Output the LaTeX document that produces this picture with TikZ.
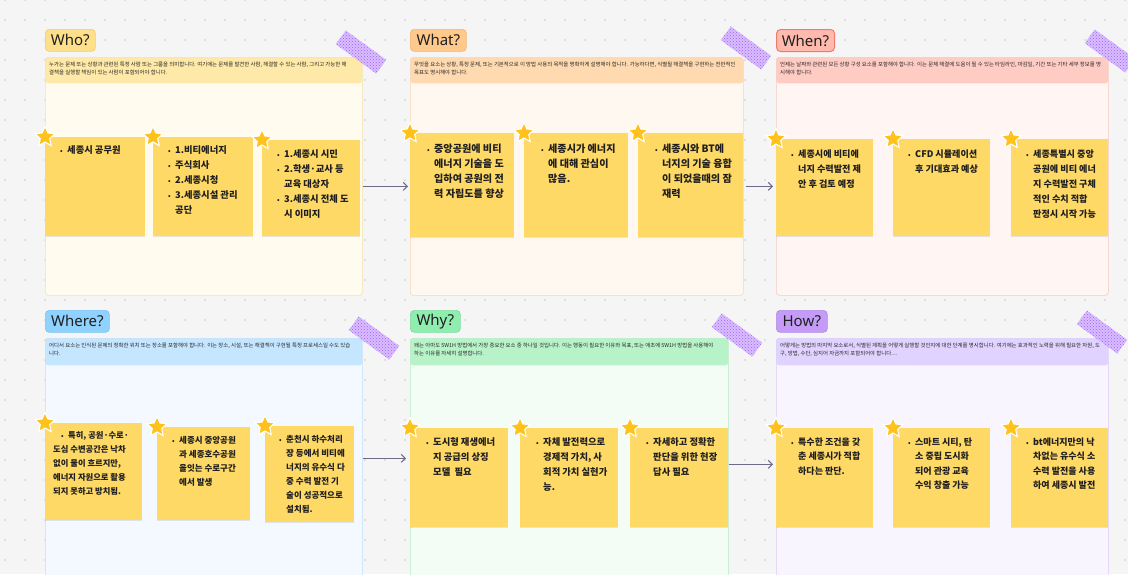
\documentclass[tikz,border=0pt]{standalone}
\usepackage{fontspec}
\newfontfamily\kr{Noto Sans CJK KR}
\newfontfamily\hdf{Noto Sans}
\usetikzlibrary{shapes.geometric,arrows.meta,patterns,shadows,calc}
\definecolor{bgc}{HTML}{F5F5F5}
\definecolor{dotc}{HTML}{CACACA}
\definecolor{stk}{HTML}{FFD966}
\definecolor{starc}{HTML}{FFC21A}
\definecolor{arr}{HTML}{6F6A8A}
\definecolor{tapec}{HTML}{D6B8FF}
\definecolor{tapep}{HTML}{9E62FF}
\definecolor{txt}{HTML}{1F1F1F}
\definecolor{dtxt}{HTML}{262626}
% frame colours: body, header band, border, title fill, title border
\definecolor{whoB}{HTML}{FFFCEF}\definecolor{whoH}{HTML}{FFE9A8}\definecolor{whoD}{HTML}{F3E2A8}\definecolor{whoT}{HTML}{FFE08A}\definecolor{whoTD}{HTML}{F0CD70}
\definecolor{whatB}{HTML}{FFF8F1}\definecolor{whatH}{HTML}{FFDAB0}\definecolor{whatD}{HTML}{F6D6B5}\definecolor{whatT}{HTML}{FFC98C}\definecolor{whatTD}{HTML}{F0B578}
\definecolor{whenB}{HTML}{FFF6F4}\definecolor{whenH}{HTML}{FFCCC4}\definecolor{whenD}{HTML}{F7C9C2}\definecolor{whenT}{HTML}{FFB9AD}\definecolor{whenTD}{HTML}{EE7B6B}
\definecolor{whereB}{HTML}{F4F9FF}\definecolor{whereH}{HTML}{C5E6FF}\definecolor{whereD}{HTML}{C0E0FA}\definecolor{whereT}{HTML}{8FD1FF}\definecolor{whereTD}{HTML}{7EC3F2}
\definecolor{whyB}{HTML}{F3FDF6}\definecolor{whyH}{HTML}{B8F2C9}\definecolor{whyD}{HTML}{B5EBC5}\definecolor{whyT}{HTML}{90EDB0}\definecolor{whyTD}{HTML}{7EDF9E}
\definecolor{howB}{HTML}{F8F5FF}\definecolor{howH}{HTML}{E0D3FF}\definecolor{howD}{HTML}{D9CCF7}\definecolor{howT}{HTML}{C49CF8}\definecolor{howTD}{HTML}{B48AEB}
\newcommand\bu{\makebox[7pt][l]{\fontsize{6.5}{6.5}\selectfont •}}
\newcommand\ii{\hspace*{7pt}}
\newcommand\fs{\rule{0pt}{8pt}}
\begin{document}
\begin{tikzpicture}[x=1pt,y=-1pt,
  frm/.style={rounded corners=3pt, anchor=north west, inner sep=0pt, line width=0.6pt},
  ttl/.style={rounded corners=4pt, anchor=north west, inner sep=0pt, line width=0.7pt, text=txt, font=\hdf\fontsize{15}{15}\selectfont},
  desc/.style={anchor=north west, inner sep=0pt, align=left, text=dtxt, font=\kr\fontsize{5.4}{8.2}\selectfont},
  sticky/.style={fill=stk, anchor=north west, inner sep=0pt, drop shadow={shadow xshift=0pt, shadow yshift=-1pt, opacity=0.18}},
  stmark/.style={star, star points=5, star point ratio=2.1, fill=starc, draw=white, line width=1.1pt, minimum size=21pt, inner sep=0pt},
  stxt/.style={anchor=north west, inner sep=0pt, align=left, text=txt},
  conn/.style={draw=arr, line width=1.1pt, -{Straight Barb[length=4pt,width=8pt]}},
  tapest/.style={minimum width=50pt, minimum height=17pt, inner sep=0pt, preaction={fill=tapec, fill opacity=0.9}, pattern=crosshatch dots, pattern color=tapep}
]
\useasboundingbox (0,0) rectangle (1128,574);
\clip (0,0) rectangle (1128,574);
\fill[bgc] (0,0) rectangle (1128,574);
\foreach \i in {0,...,56} {\foreach \j in {0,...,28} {\fill[dotc] (5+20*\i,20*\j) circle[radius=0.9pt];}}

% ---------- frames ----------
\node[frm, fill=whoB, draw=whoD, minimum width=317pt, minimum height=238pt,
  path picture={\fill[whoH] (path picture bounding box.north west) rectangle ([yshift=-26pt]path picture bounding box.north east);}] (who) at (45,57) {};
\node[frm, fill=whatB, draw=whatD, minimum width=333pt, minimum height=238pt,
  path picture={\fill[whatH] (path picture bounding box.north west) rectangle ([yshift=-26pt]path picture bounding box.north east);}] (what) at (410,57) {};
\node[frm, fill=whenB, draw=whenD, minimum width=332pt, minimum height=238pt,
  path picture={\fill[whenH] (path picture bounding box.north west) rectangle ([yshift=-26pt]path picture bounding box.north east);}] (when) at (776,57) {};
\node[frm, fill=whereB, draw=whereD, minimum width=317pt, minimum height=250pt,
  path picture={\fill[whereH] (path picture bounding box.north west) rectangle ([yshift=-27pt]path picture bounding box.north east);}] (where) at (45,338) {};
\node[frm, fill=whyB, draw=whyD, minimum width=318pt, minimum height=250pt,
  path picture={\fill[whyH] (path picture bounding box.north west) rectangle ([yshift=-27pt]path picture bounding box.north east);}] (why) at (410,338) {};
\node[frm, fill=howB, draw=howD, minimum width=332pt, minimum height=250pt,
  path picture={\fill[howH] (path picture bounding box.north west) rectangle ([yshift=-27pt]path picture bounding box.north east);}] (how) at (776,338) {};

% ---------- titles ----------
\node[ttl, fill=whoT, draw=whoTD, minimum width=50pt, minimum height=22pt] (whoT) at (45,29) {Who?};
\node[ttl, fill=whatT, draw=whatTD, minimum width=56pt, minimum height=22pt] (whatT) at (410,29) {What?};
\node[ttl, fill=whenT, draw=whenTD, line width=1pt, minimum width=58pt, minimum height=22pt] (whenT) at (776,29) {When?};
\node[ttl, fill=whereT, draw=whereTD, minimum width=64pt, minimum height=22pt] (whereT) at (45,310) {Where?};
\node[ttl, fill=whyT, draw=whyTD, minimum width=50pt, minimum height=22pt] (whyT) at (410,310) {Why?};
\node[ttl, fill=howT, draw=howTD, minimum width=51pt, minimum height=22pt] (howT) at (776,310) {How?};

% ---------- descriptions ----------
\node[desc] (whoD) at (49,62) {누가는 문제 또는 상황과 관련된 특정 사람 또는 그룹을 의미합니다. 여기에는 문제를 발견한 사람, 해결할 수 있는 사람, 그리고 가능한 해\\결책을 실행할 책임이 있는 사람이 포함되어야 합니다.};
\node[desc] (whatD) at (414,62) {무엇을 요소는 상황, 특정 문제, 또는 기본적으로 이 방법 사용의 목적을 명확하게 설명해야 합니다. 가능하다면, 식별될 해결책을 구현하는 전반적인\\목표도 명시해야 합니다.};
\node[desc] (whenD) at (780,62) {언제는 날짜와 관련된 모든 상황 구성 요소를 포함해야 합니다. 이는 문제 해결에 도움이 될 수 있는 타임라인, 마감일, 기간 또는 기타 세부 정보를 명\\시해야 합니다.};
\node[desc] (whereD) at (49,343) {어디서 요소는 인식된 문제의 정확한 위치 또는 장소를 포함해야 합니다. 이는 장소, 시설, 또는 해결책이 구현될 특정 프로세스일 수도 있습\\니다.};
\node[desc] (whyD) at (414,343) {왜는 아마도 5W1H 방법에서 가장 중요한 요소 중 하나일 것입니다. 이는 행동이 필요한 이유와 목표, 또는 애초에 5W1H 방법을 사용해야\\하는 이유를 자세히 설명합니다.};
\node[desc] (howD) at (780,343) {어떻게는 방법의 마지막 요소로서, 식별된 계획을 어떻게 실행할 것인지에 대한 단계를 명시합니다. 여기에는 효과적인 노력을 위해 필요한 자원, 도\\구, 방법, 수단, 심지어 자금까지 포함되어야 합니다....};

% ---------- tapes ----------
\node[tapest, rotate=-36] (tp1) at (361,52) {};
\node[tapest, rotate=-36] (tp2) at (746,48) {};
\node[tapest, rotate=-36] (tp3) at (1110,51) {};
\node[tapest, rotate=-36] (tp4) at (374,338) {};
\node[tapest, rotate=-36] (tp5) at (737,335) {};
\node[tapest, rotate=-36] (tp6) at (1102,332) {};

% ---------- connectors ----------
\draw[conn] ([yshift=-10pt]who.east) -- ([yshift=-10pt,xshift=-2pt]what.west);
\draw[conn] ([yshift=-10pt,xshift=2pt]what.east) -- ([yshift=-10pt,xshift=-3pt]when.west);
\draw[conn] ([yshift=5pt]where.east) -- ([yshift=5pt,xshift=-4pt]why.west);
\draw[conn] ([yshift=-1pt]why.east) -- ([yshift=-1pt,xshift=-3pt]how.west);

% ---------- stickies: Who ----------
\node[sticky, minimum width=100pt, minimum height=99pt] (w1) at (45,137) {};
\node[sticky, minimum width=100pt, minimum height=99pt] (w2) at (153,137) {};
\node[sticky, minimum width=98pt, minimum height=96pt] (w3) at (262,140) {};
\node[stxt, font=\kr\bfseries\fontsize{9.3}{15}\selectfont] (w1t) at ([shift={(15pt,-8pt)}]w1.north west) {\fs\bu 세종시 공무원};
\node[stxt, font=\kr\bfseries\fontsize{9.3}{15}\selectfont] (w2t) at ([shift={(15pt,-8pt)}]w2.north west) {\fs\bu 1.비티에너지\\\bu 주식회사\\\bu 2.세종시청\\\bu 3.세종시설 관리\\\ii 공단};
\node[stxt, font=\kr\bfseries\fontsize{9.3}{15}\selectfont] (w3t) at ([shift={(15pt,-9pt)}]w3.north west) {\fs\bu 1.세종시 시민\\\bu 2.학생·교사 등\\\ii 교육 대상자\\\bu 3.세종시 전체 도\\\ii 시 이미지};
\node[stmark] (w1s) at (w1.north west) {};
\node[stmark] (w2s) at (w2.north west) {};
\node[stmark] (w3s) at (w3.north west) {};

% ---------- stickies: What ----------
\node[sticky, minimum width=104pt, minimum height=104pt] (h1) at (410,133) {};
\node[sticky, minimum width=104pt, minimum height=104pt] (h2) at (524,133) {};
\node[sticky, minimum width=105pt, minimum height=104pt] (h3) at (638,133) {};
\node[stxt, font=\kr\bfseries\fontsize{10.1}{15}\selectfont] (h1t) at ([shift={(17pt,-11pt)}]h1.north west) {\fs\bu 중앙공원에 비티\\\ii 에너지 기술을 도\\\ii 입하여 공원의 전\\\ii 력 자립도를 향상};
\node[stxt, font=\kr\bfseries\fontsize{10.1}{15}\selectfont] (h2t) at ([shift={(17pt,-11pt)}]h2.north west) {\fs\bu 세종시가 에너지\\\ii 에 대해 관심이\\\ii 많음.};
\node[stxt, font=\kr\bfseries\fontsize{10.1}{15}\selectfont] (h3t) at ([shift={(17pt,-11pt)}]h3.north west) {\fs\bu 세종시와 BT에\\\ii 너지의 기술 융합\\\ii 이 되었을때의 잠\\\ii 재력};
\node[stmark] (h1s) at (h1.north west) {};
\node[stmark] (h2s) at (h2.north west) {};
\node[stmark] (h3s) at (h3.north west) {};

% ---------- stickies: When ----------
\node[sticky, minimum width=97pt, minimum height=97pt] (n1) at (776,139) {};
\node[sticky, minimum width=97pt, minimum height=97pt] (n2) at (893,139) {};
\node[sticky, minimum width=97pt, minimum height=97pt] (n3) at (1011,139) {};
\node[stxt, font=\kr\bfseries\fontsize{9.1}{15}\selectfont] (n1t) at ([shift={(15pt,-10pt)}]n1.north west) {\fs\bu 세종시에 비티에\\\ii 너지 수력발전 제\\\ii 안 후 검토 예정};
\node[stxt, font=\kr\bfseries\fontsize{9.1}{15}\selectfont] (n2t) at ([shift={(15pt,-10pt)}]n2.north west) {\fs\bu CFD 시뮬레이션\\\ii 후 기대효과 예상};
\node[stxt, font=\kr\bfseries\fontsize{9.1}{15}\selectfont] (n3t) at ([shift={(15pt,-10pt)}]n3.north west) {\fs\bu 세종특별시 중앙\\\ii 공원에 비티 에너\\\ii 지 수력발전 구체\\\ii 적인 수치 적합\\\ii 판정시 시작 가능};
\node[stmark] (n1s) at (n1.north west) {};
\node[stmark] (n2s) at (n2.north west) {};
\node[stmark] (n3s) at (n3.north west) {};

% ---------- stickies: Where ----------
\node[sticky, minimum width=97pt, minimum height=97pt] (r1) at (45,423) {};
\node[sticky, minimum width=93pt, minimum height=93pt] (r2) at (157,427) {};
\node[sticky, minimum width=89pt, minimum height=96pt] (r3) at (265,426) {};
\node[stxt, font=\kr\bfseries\fontsize{8.3}{14}\selectfont] (r1t) at ([shift={(8pt,-7pt)}]r1.north west) {\fs\hspace*{8pt}\bu 특히, 공원·수로·\\도심 수변공간은 낙차\\없이 물이 흐르지만,\\에너지 자원으로 활용\\되지 못하고 방치됨.};
\node[stxt, font=\kr\bfseries\fontsize{8.5}{14}\selectfont] (r2t) at ([shift={(15pt,-8pt)}]r2.north west) {\fs\bu 세종시 중앙공원\\\ii 과 세종호수공원\\\ii 을잇는 수로구간\\\ii 에서 발생};
\node[stxt, font=\kr\bfseries\fontsize{8.5}{14}\selectfont] (r3t) at ([shift={(14pt,-8pt)}]r3.north west) {\fs\bu 춘천시 하수처리\\\ii 장 등에서 비티에\\\ii 너지의 유수식 다\\\ii 중 수력 발전 기\\\ii 술이 성공적으로\\\ii 설치됨.};
\node[stmark] (r1s) at (r1.north west) {};
\node[stmark] (r2s) at (r2.north west) {};
\node[stmark] (r3s) at (r3.north west) {};

% ---------- stickies: Why ----------
\node[sticky, minimum width=98pt, minimum height=99pt] (y1) at (410,428) {};
\node[sticky, minimum width=98pt, minimum height=99pt] (y2) at (520,428) {};
\node[sticky, minimum width=98pt, minimum height=99pt] (y3) at (630,428) {};
\node[stxt, font=\kr\bfseries\fontsize{9.3}{15}\selectfont] (y1t) at ([shift={(16pt,-9pt)}]y1.north west) {\fs\bu 도시형 재생에너\\\ii 지 공급의 상징\\\ii 모델\ \ 필요};
\node[stxt, font=\kr\bfseries\fontsize{9.3}{15}\selectfont] (y2t) at ([shift={(16pt,-9pt)}]y2.north west) {\fs\bu 자체 발전력으로\\\ii 경제적 가치, 사\\\ii 회적 가치 실현가\\\ii 능.};
\node[stxt, font=\kr\bfseries\fontsize{9.3}{15}\selectfont] (y3t) at ([shift={(16pt,-9pt)}]y3.north west) {\fs\bu 자세하고 정확한\\\ii 판단을 위한 현장\\\ii 답사 필요};
\node[stmark] (y1s) at (y1.north west) {};
\node[stmark] (y2s) at (y2.north west) {};
\node[stmark] (y3s) at (y3.north west) {};

% ---------- stickies: How ----------
\node[sticky, minimum width=97pt, minimum height=99pt] (o1) at (776,428) {};
\node[sticky, minimum width=97pt, minimum height=99pt] (o2) at (893,428) {};
\node[sticky, minimum width=97pt, minimum height=99pt] (o3) at (1011,428) {};
\node[stxt, font=\kr\bfseries\fontsize{9.0}{14.5}\selectfont] (o1t) at ([shift={(15pt,-9pt)}]o1.north west) {\fs\bu 특수한 조건을 갖\\\ii 춘 세종시가 적합\\\ii 하다는 판단.};
\node[stxt, font=\kr\bfseries\fontsize{9.0}{14.5}\selectfont] (o2t) at ([shift={(15pt,-9pt)}]o2.north west) {\fs\bu 스마트 시티, 탄\\\ii 소 중립 도시화\\\ii 되어 관광 교육\\\ii 수익 창출 가능};
\node[stxt, font=\kr\bfseries\fontsize{9.0}{14.5}\selectfont] (o3t) at ([shift={(15pt,-9pt)}]o3.north west) {\fs\bu bt에너지만의 낙\\\ii 차없는 유수식 소\\\ii 수력 발전을 사용\\\ii 하여 세종시 발전};
\node[stmark] (o1s) at (o1.north west) {};
\node[stmark] (o2s) at (o2.north west) {};
\node[stmark] (o3s) at (o3.north west) {};
\end{tikzpicture}
\end{document}
